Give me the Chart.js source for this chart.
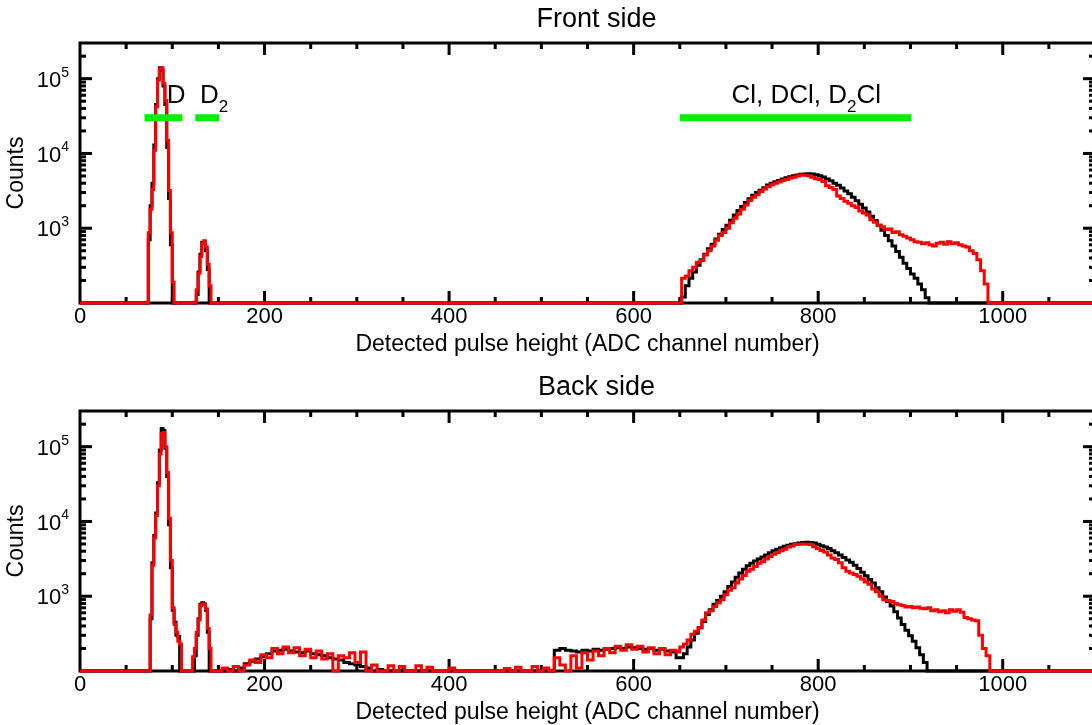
<!DOCTYPE html>
<html>
<head>
<meta charset="utf-8">
<title>Pulse height spectra</title>
<script src="https://cdn.jsdelivr.net/npm/chart.js@4.4.1/dist/chart.umd.min.js"></script>
<style>
  html, body { margin: 0; padding: 0; background: #fff; overflow: hidden; }
  .panel { position: absolute; left: 0; }
  #front-wrap { top: 0; }
  #back-wrap { top: 368px; }
</style>
</head>
<body>
<div class="panel" id="front-wrap"><canvas id="front" width="1100" height="362"></canvas></div>
<div class="panel" id="back-wrap"><canvas id="back" width="1100" height="362"></canvas></div>
<script>
// histogram bin starts (ADC channel); a value holds until the next bin start
function bins(start, stop, step) {
    const out = [];
    for (let c = start; c <= stop; c += step) out.push(c);
    return out;
}

const xMajorTicks = [0, 200, 400, 600, 800, 1000];
const yExponents = [3, 4, 5];
const yMin = 100, yMax = 300000;

// ---- front side ----
const frontChannels = [0, ...bins(72, 102, 2), ...bins(124, 142, 2), ...bins(648, 988, 4), 1100];

const frontBlack = [
    0,
    // D
    0, 700, 2000, 4000, 13000, 45000, 100000, 140000, 130000, 80000, 45000, 12000, 2500, 600, 0, 0,
    // D2
    0, 130, 260, 450, 650, 650, 500, 280, 0, 0,
    // Cl, DCl, D2Cl
    0,
    120, 170, 215, 260, 320, 380, 450, 530, 610, 720,
    830, 960, 1100, 1280, 1500, 1720, 1950, 2200, 2480, 2750,
    3000, 3230, 3480, 3780, 3980, 4180, 4350, 4550, 4720, 4880,
    5020, 5150, 5260, 5320, 5340, 5300, 5200, 5050, 4850, 4550,
    4300, 4000, 3750, 3450, 3150, 2880, 2600, 2330, 2100, 1860,
    1650, 1450, 1270, 1100, 940, 800, 680, 580, 490, 410,
    340, 290, 245, 215, 180, 150, 118, 0, 0, 0,
    0, 0, 0, 0, 0, 0, 0, 0, 0, 0,
    0, 0, 0, 0, 0,
    0
];

const frontRed = [
    0,
    // D
    0, 870, 1800, 3300, 11000, 42000, 95000, 135000, 140000, 86000, 51000, 15000, 3200, 870, 190, 0,
    // D2
    0, 150, 250, 420, 620, 680, 560, 330, 170, 0,
    // Cl, DCl, D2Cl
    0,
    215, 230, 270, 300, 350, 370, 440, 500, 580, 690,
    800, 880, 1000, 1180, 1360, 1550, 1800, 2050, 2350, 2600,
    2800, 3100, 3350, 3600, 3800, 4000, 4150, 4350, 4500, 4700,
    4800, 5000, 5150, 5100, 5050, 4800, 4600, 4500, 4200, 3700,
    3500, 3300, 2700, 2500, 2300, 2150, 2000, 1900, 1700, 1600,
    1500, 1300, 1200, 1100, 1050, 960, 980, 880, 900, 820,
    780, 740, 700, 660, 650, 620, 640, 600, 580, 630,
    650, 610, 660, 620, 640, 600, 580, 560, 500, 460,
    380, 270, 180, 0, 0,
    0
];

// ---- back side ----
const backChannels = [0, ...bins(74, 110, 2), ...bins(120, 144, 2), ...bins(148, 646, 6), ...bins(650, 990, 4), 1100];

const backBlack = [
    0,
    // D
    0, 500, 2800, 6500, 13000, 33000, 90000, 175000, 165000, 95000, 40000, 9000, 2400, 650, 450, 300, 290, 0, 0,
    // D2
    0, 0, 160, 300, 500, 780, 820, 790, 650, 330, 0, 0, 0,
    // continuum
    0, 0, 105, 0, 110, 125, 135, 145, 155, 170,
    185, 190, 195, 185, 180, 175, 185, 170, 165, 160,
    150, 145, 140, 130, 125, 120, 115, 110, 0, 105,
    0, 0, 0, 0, 0, 0, 0, 0, 0, 0,
    0, 0, 0, 0, 0, 0, 0, 0, 0, 0,
    0, 0, 0, 0, 0, 0, 0, 0, 0, 0,
    0, 190, 200, 190, 185, 180, 190, 185, 195, 190,
    195, 200, 205, 200, 210, 205, 200, 195, 200, 190,
    195, 185, 180, 150,
    // Cl, DCl, D2Cl
    150, 170, 210, 260, 320, 380, 460, 570, 660, 780,
    880, 1000, 1150, 1350, 1550, 1800, 2050, 2300, 2550, 2750,
    2950, 3150, 3350, 3550, 3800, 4050, 4250, 4450, 4650, 4800,
    4950, 5050, 5150, 5230, 5280, 5250, 5150, 4950, 4750, 4550,
    4350, 4050, 3800, 3550, 3300, 3050, 2850, 2600, 2350, 2100,
    1880, 1680, 1500, 1300, 1150, 980, 850, 740, 620, 510,
    420, 350, 295, 250, 205, 165, 130, 0, 0, 0,
    0, 0, 0, 0, 0, 0, 0, 0, 0, 0,
    0, 0, 0, 0, 0,
    0,
    0
];

const backRed = [
    0,
    // D
    0, 560, 2600, 6000, 12000, 30000, 80000, 150000, 155000, 100000, 45000, 11000, 3000, 700, 420, 330, 250, 230, 0,
    // D2
    0, 155, 200, 330, 480, 750, 790, 780, 680, 370, 200, 0, 0,
    // continuum
    0, 110, 0, 115, 0, 120, 140, 130, 165, 150,
    200, 170, 210, 175, 205, 160, 195, 150, 185, 145,
    170, 0, 160, 150, 175, 130, 180, 0, 120, 0,
    0, 118, 0, 115, 0, 0, 118, 0, 112, 0,
    0, 0, 110, 0, 0, 0, 0, 0, 0, 0,
    0, 0, 108, 0, 112, 0, 0, 115, 0, 110,
    0, 150, 120, 0, 160, 110, 175, 140, 185, 160,
    200, 175, 215, 190, 225, 195, 215, 180, 205, 170,
    200, 165, 190, 180,
    // Cl, DCl, D2Cl
    210, 230, 260, 310, 340, 380, 480, 600, 640, 730,
    820, 900, 1050, 1200, 1300, 1500, 1700, 1900, 2150, 2300,
    2500, 2750, 2900, 3150, 3400, 3650, 3850, 4050, 4250, 4550,
    4700, 4900, 4950, 5000, 4950, 4900, 4600, 4300, 4100, 3900,
    3550, 3250, 3100, 2800, 2400, 2150, 2050, 1950, 1850, 1700,
    1550, 1450, 1250, 1150, 1000, 900, 880, 850, 800, 770,
    750, 720, 730, 700, 720, 690, 680, 700, 640, 660,
    620, 640, 600, 660, 630, 660, 610, 520, 500, 480,
    470, 300, 200, 160, 0,
    0,
    0
];

// green bars marking the mass groups (channel ranges) and their labels
const markerRanges = [[70, 111], [125, 151], [650, 901]];
const markerLevel = 30000;
const markerLabels = [
    { x: 94, align: 'left', parts: [['D', false]] },
    { x: 130, align: 'left', parts: [['D', false], ['2', true]] },
    { x: 787, align: 'center', parts: [['Cl, DCl, D', false], ['2', true], ['Cl', false]] }
];
const markerTextLevel = 48000;

const FONT = '"Liberation Sans", Arial, Helvetica, sans-serif';
Chart.defaults.font.family = FONT;
Chart.defaults.color = '#000';

function stroke(ctx, x1, y1, x2, y2) {
    ctx.beginPath();
    ctx.moveTo(x1, y1);
    ctx.lineTo(x2, y2);
    ctx.stroke();
}

// box around the plot with inward ticks on all four sides, 10^n labels and heading
const framePlugin = {
    id: 'frame',
    beforeDatasetsDraw(chart, args, opts) {
        const { ctx, chartArea: a, scales: { x, y } } = chart;
        ctx.save();
        ctx.strokeStyle = '#000';
        ctx.lineWidth = 3;
        ctx.strokeRect(a.left, a.top, a.right - a.left, a.bottom - a.top);

        for (let v = 50; v < 1100; v += 50) {
            const px = x.getPixelForValue(v);
            const len = v % 200 === 0 ? 12 : 6;
            stroke(ctx, px, a.bottom, px, a.bottom - len);
            stroke(ctx, px, a.top, px, a.top + len);
        }
        for (let e = 2; e <= 5; e++) {
            for (let m = 1; m <= 9; m++) {
                const v = m * Math.pow(10, e);
                if (v <= y.min || v >= y.max) continue;
                const py = y.getPixelForValue(v);
                const len = m === 1 ? 12 : 6;
                stroke(ctx, a.left, py, a.left + len, py);
                stroke(ctx, a.right, py, a.right - len, py);
            }
        }

        ctx.fillStyle = '#000';
        ctx.textBaseline = 'middle';
        yExponents.forEach(e => {
            const py = y.getPixelForValue(Math.pow(10, e));
            ctx.font = '14px ' + FONT;
            const ew = ctx.measureText(String(e)).width;
            const xr = a.left - 11;
            ctx.textAlign = 'left';
            ctx.fillText(String(e), xr - ew, py - 6);
            ctx.font = '22px ' + FONT;
            ctx.textAlign = 'right';
            ctx.fillText('10', xr - ew, py + 2);
        });

        ctx.font = '27px ' + FONT;
        ctx.textAlign = 'center';
        ctx.fillText(opts.heading, (a.left + a.right) / 2 + 9, a.top - 23);
        ctx.restore();
    }
};

// text over the green bars, with subscripts
const labelPlugin = {
    id: 'markerLabels',
    afterDatasetsDraw(chart, args, opts) {
        if (!opts.show) return;
        const { ctx, scales: { x, y } } = chart;
        const mainFont = '26px ' + FONT, subFont = '17px ' + FONT;
        ctx.save();
        ctx.fillStyle = '#000';
        ctx.textBaseline = 'alphabetic';
        ctx.textAlign = 'left';
        markerLabels.forEach(lab => {
            const widths = lab.parts.map(([t, sub]) => {
                ctx.font = sub ? subFont : mainFont;
                return ctx.measureText(t).width;
            });
            const total = widths.reduce((s, w) => s + w, 0);
            let px = x.getPixelForValue(lab.x);
            if (lab.align === 'center') px -= total / 2;
            const py = y.getPixelForValue(markerTextLevel);
            lab.parts.forEach(([t, sub], i) => {
                ctx.font = sub ? subFont : mainFont;
                ctx.fillText(t, px, sub ? py + 9 : py);
                px += widths[i];
            });
        });
        ctx.restore();
    }
};

function makeChart(id, title, channels, black, red, withMarkers) {
    // empty bins sit on the bottom of the log axis
    const toPoints = vals => vals.map((v, i) => ({ x: channels[i], y: Math.max(v, yMin) }));
    const trace = {
        stepped: 'before',
        borderWidth: 3,
        pointRadius: 0,
        fill: false,
        clip: { left: 0, top: 0, right: 0, bottom: 2 }
    };
    const datasets = [
        { ...trace, label: 'red', data: toPoints(red), borderColor: '#ff0000', order: 1 },
        { ...trace, label: 'black', data: toPoints(black), borderColor: '#000000', order: 2 }
    ];
    if (withMarkers) {
        markerRanges.forEach(([a, b]) => datasets.push({
            data: [{ x: a, y: markerLevel }, { x: b, y: markerLevel }],
            borderColor: '#00f000',
            borderWidth: 7,
            borderCapStyle: 'butt',
            pointRadius: 0,
            fill: false,
            order: 0
        }));
    }

    return new Chart(document.getElementById(id), {
        type: 'line',
        data: { datasets },
        options: {
            responsive: false,
            animation: false,
            events: [],
            layout: { padding: { left: 0, right: 5, top: 43, bottom: 0 } },
            plugins: {
                legend: { display: false },
                tooltip: { enabled: false },
                title: { display: false },
                frame: { heading: title },
                markerLabels: { show: withMarkers }
            },
            scales: {
                x: {
                    type: 'linear',
                    min: 0,
                    max: 1100,
                    afterBuildTicks: s => { s.ticks = xMajorTicks.map(v => ({ value: v })); },
                    afterFit: s => { s.height = 59; },
                    grid: { display: false, drawTicks: false },
                    border: { display: false },
                    ticks: {
                        padding: 1,
                        color: '#000',
                        font: { size: 22 },
                        maxRotation: 0,
                        autoSkip: false,
                        callback: v => String(v)
                    },
                    title: {
                        display: true,
                        text: 'Detected pulse height (ADC channel number)',
                        color: '#000',
                        font: { size: 23 },
                        padding: { top: 0, bottom: 4 }
                    }
                },
                y: {
                    type: 'logarithmic',
                    min: yMin,
                    max: yMax,
                    afterFit: s => { s.width = 80; },
                    grid: { display: false },
                    border: { display: false },
                    ticks: { display: false },
                    title: {
                        display: true,
                        text: 'Counts',
                        color: '#000',
                        font: { size: 23 },
                        padding: { top: 3, bottom: 0 }
                    }
                }
            }
        },
        plugins: [framePlugin, labelPlugin]
    });
}

makeChart('front', 'Front side', frontChannels, frontBlack, frontRed, true);
makeChart('back', 'Back side', backChannels, backBlack, backRed, false);
</script>
</body>
</html>
